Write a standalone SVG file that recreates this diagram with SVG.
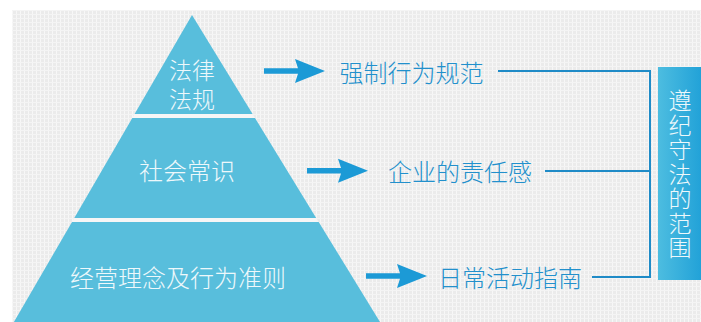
<svg xmlns="http://www.w3.org/2000/svg" width="701" height="322" viewBox="0 0 701 322">
<defs>
<style>
.sec{fill:#58bedc}
.gap{fill:#f6f6f6}
.wt{fill:#eef8fb;font-family:"Noto Sans CJK SC",sans-serif;font-weight:300;text-anchor:middle;dominant-baseline:central}
.bt{fill:#2290cc;font-family:"Noto Sans CJK SC",sans-serif;font-weight:300;text-anchor:middle;dominant-baseline:central;font-size:24px}
.ln{fill:none;stroke:#1f8bc7;stroke-width:2}
.ar{fill:#1c9ad6}
</style>
<pattern id="tex" width="4" height="4" patternUnits="userSpaceOnUse">
<rect width="4" height="4" fill="#ebebeb"/>
<rect x="0" y="0" width="1" height="4" fill="#f7f7f7"/>
<rect x="0" y="2" width="4" height="1" fill="#f4f4f4"/>
</pattern>
<linearGradient id="boxg" x1="0" y1="0" x2="1" y2="0">
<stop offset="0" stop-color="#4dbde0"/>
<stop offset="1" stop-color="#22a2d8"/>
</linearGradient>
<path id="arrow" d="M-61,-2.8 L-27,-2.8 L-30,-12 L0,0 L-30,12 L-27,2.8 L-61,2.8 Z"/>
</defs>
<rect width="701" height="322" fill="#ffffff"/>
<rect x="12" y="10" width="689" height="312" fill="url(#tex)"/>
<polygon class="gap" points="134.6,114 252.6,114 255,118 132.3,118"/>
<polygon class="gap" points="74.3,218 316.2,218 318.7,222 72,222"/>
<g id="level1">
<polygon class="sec" points="192,15 252.6,114 134.6,114"/>
<text class="wt" font-size="23"><tspan x="192" y="69">法律</tspan><tspan x="192" y="98">法规</tspan></text>
</g>
<g id="level2">
<polygon class="sec" points="132.3,118 255,118 316.2,218 74.3,218"/>
<text class="wt" x="187" y="169" font-size="24">社会常识</text>
</g>
<g id="level3">
<polygon class="sec" points="72,222 318.7,222 380,322 13.9,322"/>
<text class="wt" x="178" y="276" font-size="24">经营理念及行为准则</text>
</g>
<g id="label1"><text class="bt" x="411.5" y="71">强制行为规范</text></g>
<g id="label2"><text class="bt" x="460" y="170">企业的责任感</text></g>
<g id="label3"><text class="bt" x="510" y="276">日常活动指南</text></g>
<g id="scope">
<rect x="658" y="67" width="43" height="213" fill="url(#boxg)"/>
<text class="wt" font-size="23"><tspan x="680" y="99">遵</tspan><tspan x="680" y="123.5">纪</tspan><tspan x="680" y="148">守</tspan><tspan x="680" y="172.5">法</tspan><tspan x="680" y="197">的</tspan><tspan x="680" y="221.5">范</tspan><tspan x="680" y="246">围</tspan></text>
</g>
<g id="connectors">
<use href="#arrow" class="ar" x="325" y="71"/>
<use href="#arrow" class="ar" x="368" y="170.7"/>
<use href="#arrow" class="ar" x="427" y="276"/>
<polyline class="ln" points="498,71 650,71 650,277 592,277"/>
<line class="ln" x1="545" y1="171" x2="650" y2="171"/>
</g>
</svg>
